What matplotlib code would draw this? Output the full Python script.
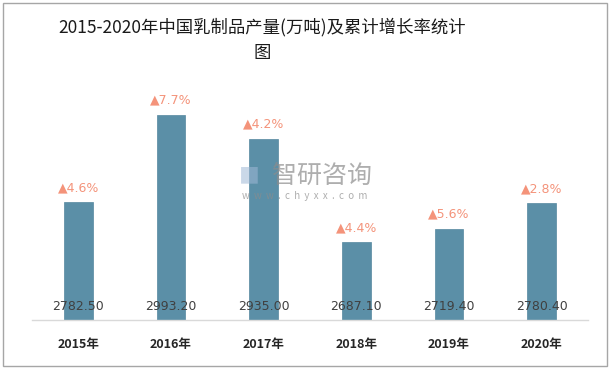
import matplotlib.pyplot as plt
from matplotlib.patches import Rectangle

years = ['2015年', '2016年', '2017年', '2018年', '2019年', '2020年']
output = [2782.50, 2993.20, 2935.00, 2687.10, 2719.40, 2780.40]
growth = ['4.6%', '7.7%', '4.2%', '4.4%', '5.6%', '2.8%']

plt.rcParams['font.family'] = ['Noto Sans CJK SC', 'DejaVu Sans']

fig = plt.figure(figsize=(6.11, 3.68), dpi=100)
ax = fig.add_axes([32/611, 1-320/368, 556/611, 230/368])

x = range(len(years))
ax.bar(x, output, width=0.31, color='#5B8FA7', edgecolor='#55889F',
       linewidth=0.5, zorder=2)
ax.set_ylim(2500, 2500 + 230/0.4164)
ax.set_xlim(-0.5, len(years) - 0.5)

for i, v in enumerate(output):
    ax.text(i, 2500 + 13/0.4164, f'{v:.2f}', ha='center', va='center',
            fontsize=9, color='#404040', family=['DejaVu Sans'], zorder=3)
    ax.text(i, v + 8/0.4164, '▲' + growth[i], ha='center', va='bottom',
            fontsize=9, color='#F4937A', family=['DejaVu Sans'], zorder=3)

ax.set_xticks(list(x))
ax.set_xticklabels(years, fontsize=9, fontweight='bold', color='#262626')
ax.tick_params(axis='x', length=0, pad=13)
ax.set_yticks([])
for s in ['top', 'right', 'left']:
    ax.spines[s].set_visible(False)
ax.spines['bottom'].set_color('#D9D9D9')
ax.spines['bottom'].set_linewidth(1)

# title
fig.text(262/611, 1-27/368, '2015-2020年中国乳制品产量(万吨)及累计增长率统计',
         ha='center', va='center', fontsize=12.5, color='#1a1a1a')
fig.text(262/611, 1-53/368, '图', ha='center', va='center',
         fontsize=12.5, color='#1a1a1a')

# watermark
fig.text(322/611, 1-176/368, '智研咨询', ha='center', va='center',
         fontsize=18, color='#8c8c8c', alpha=0.7, zorder=5)
fig.text(249/611, 1-176/368, '■', ha='center', va='center',
         fontsize=15, color='#9fb8d6', alpha=0.55, zorder=5)
fig.text(305/611, 1-196/368, 'w  w  w  .  c  h  y  x  x  .  c  o  m',
         ha='center', va='center', fontsize=7, color='#8c8c8c',
         alpha=0.7, zorder=5)

# outer frame
fig.patches.append(Rectangle((3/611, 2/368), 604/611, 363/368,
                             transform=fig.transFigure, fill=False,
                             edgecolor='#A6A6A6', linewidth=1))

fig.savefig('out.png', dpi=100)
